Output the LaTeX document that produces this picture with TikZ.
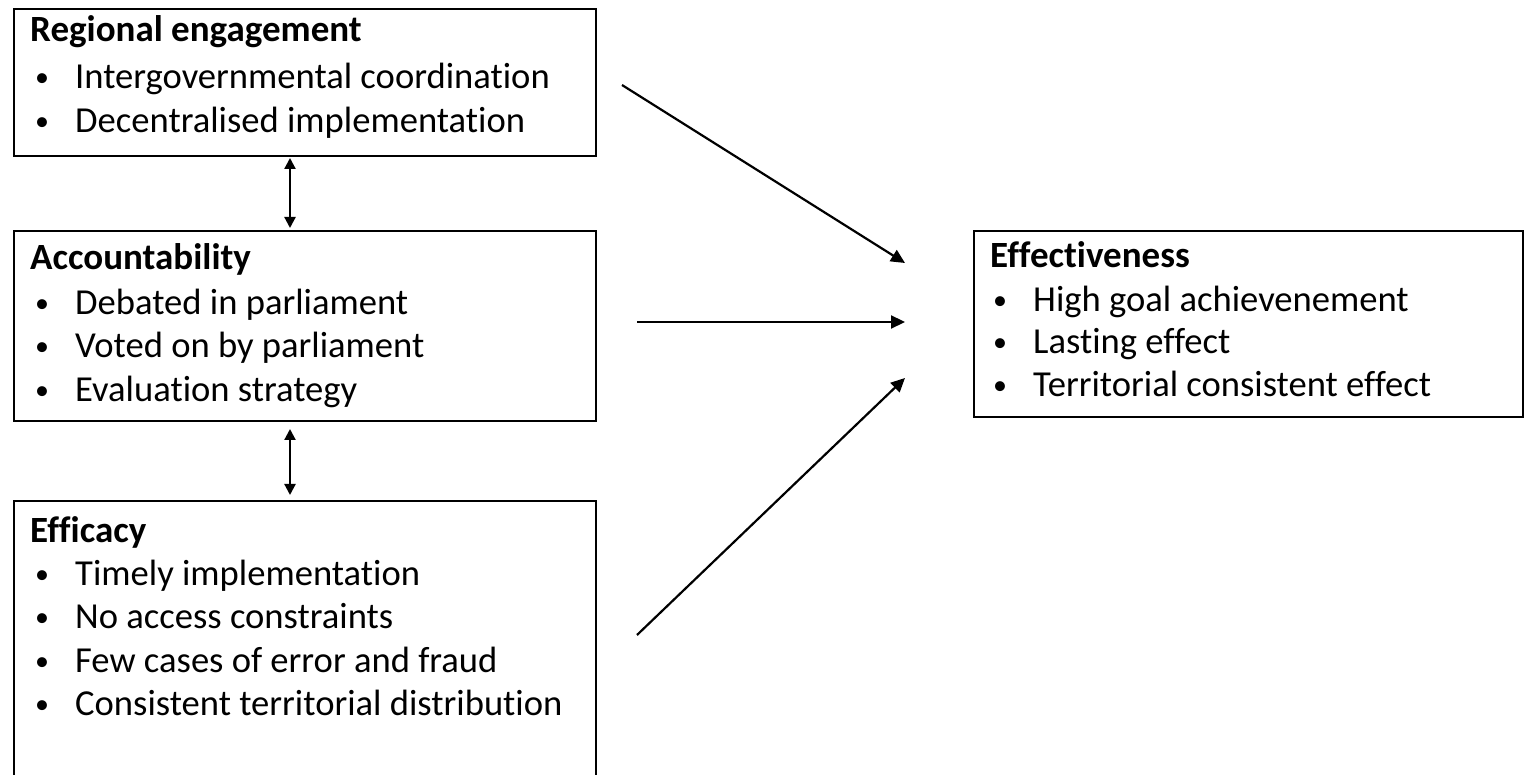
\documentclass[tikz,border=0pt]{standalone}
\usepackage{fontspec}
\setmainfont[Ligatures=NoCommon]{Carlito}
\usetikzlibrary{arrows.meta}
\newcommand\itembul{\makebox[40pt][l]{\raisebox{2pt}{\fontsize{28}{30}\selectfont•}}}
\begin{document}
\begin{tikzpicture}[x=1pt,y=-1pt,
  boxnode/.style={draw,line width=1.6pt,inner sep=0pt,anchor=north west},
  titletext/.style={anchor=base west,inner sep=0pt,font=\fontsize{37}{43}\selectfont\bfseries},
  itemtext/.style={anchor=base west,inner sep=0pt,font=\fontsize{36.6}{43}\selectfont},
  conn/.style={line width=2.2pt,-{Triangle[length=14pt,width=13pt]}},
  biconn/.style={line width=2.2pt,{Triangle[length=11pt,width=11pt]}-{Triangle[length=11pt,width=11pt]}}]
\useasboundingbox (0,0) rectangle (1527,775);
\clip (0,0) rectangle (1527,775);
% boxes
\node[boxnode,minimum width=582pt,minimum height=147pt] (b1) at (13,8) {};
\node[boxnode,minimum width=582pt,minimum height=190pt] (b2) at (13,230) {};
\node[boxnode,minimum width=582pt,minimum height=300pt] (b3) at (13,500) {};
\node[boxnode,minimum width=549pt,minimum height=186pt] (b4) at (973,230) {};
% box 1
\node[titletext] (t1) at (30,42) {Regional engagement};
\node[itemtext] (i11) at (35,89) {\itembul Intergovernmental coordination};
\node[itemtext] (i12) at (35,133) {\itembul Decentralised implementation};
% box 2
\node[titletext] (t2) at (30,270) {Accountability};
\node[itemtext] (i21) at (35,315) {\itembul Debated in parliament};
\node[itemtext] (i22) at (35,358) {\itembul Voted on by parliament};
\node[itemtext] (i23) at (35,402) {\itembul Evaluation strategy};
% box 3
\node[titletext] (t3) at (30,542) {Efficacy};
\node[itemtext] (i31) at (35,585) {\itembul Timely implementation};
\node[itemtext] (i32) at (35,628) {\itembul No access constraints};
\node[itemtext] (i33) at (35,672) {\itembul Few cases of error and fraud};
\node[itemtext] (i34) at (35,715) {\itembul Consistent territorial distribution};
% box 4
\node[titletext] (t4) at (990,268) {Effectiveness};
\node[itemtext] (i41) at (993,312) {\itembul High goal achievenement};
\node[itemtext] (i42) at (993,354) {\itembul Lasting effect};
\node[itemtext] (i43) at (993,397) {\itembul Territorial consistent effect};
% connector ends
\coordinate (a1s) at (622,85);
\coordinate (a1e) at (905,263);
\coordinate (a2s) at (637,322);
\coordinate (a2e) at (905,322);
\coordinate (a3s) at (637,635);
\coordinate (a3e) at (905,378);
\coordinate (d1s) at (290,158);
\coordinate (d1e) at (290,228);
\coordinate (d2s) at (290,429);
\coordinate (d2e) at (290,495);
\draw[conn] (a1s) -- (a1e);
\draw[conn] (a2s) -- (a2e);
\draw[conn] (a3s) -- (a3e);
\draw[biconn] (d1s) -- (d1e);
\draw[biconn] (d2s) -- (d2e);
\end{tikzpicture}
\end{document}
